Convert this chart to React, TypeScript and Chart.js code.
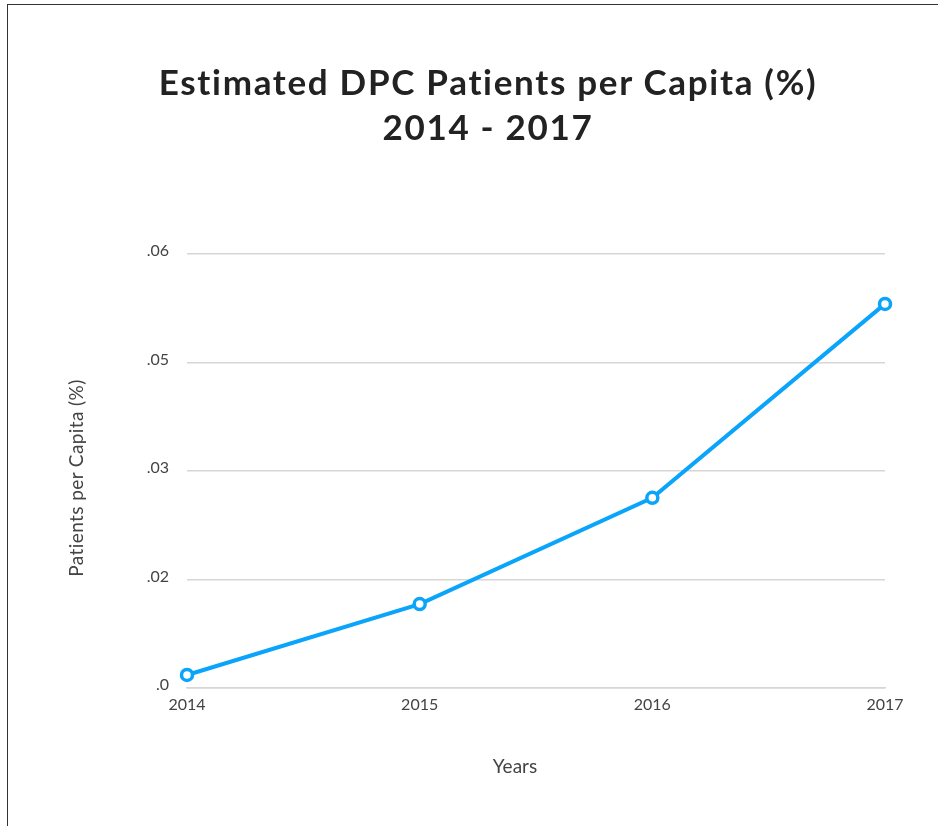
import React, { useEffect, useRef } from "react";
import { Chart, registerables } from "chart.js";

Chart.register(...registerables);

const years = ["2014", "2015", "2016", "2017"];
const patientsPerCapita = [0.0018, 0.0116, 0.0263, 0.0531];
const yTickLabels = [".0", ".02", ".03", ".05", ".06"];
const titleLines = ["Estimated DPC Patients per Capita (%)", "2014 - 2017"];
const xAxisTitle = "Years";
const yAxisTitle = "Patients per Capita (%)";

const FONT = "Lato, 'Open Sans', sans-serif";

export default function App() {
  const canvasRef = useRef<HTMLCanvasElement | null>(null);

  useEffect(() => {
    document.body.style.margin = "0";
    const canvas = canvasRef.current;
    if (!canvas) return;
    const chart = new Chart(canvas, {
      type: "line",
      data: {
        labels: years,
        datasets: [
          {
            data: patientsPerCapita,
            borderColor: "#0aa5fa",
            borderWidth: 4,
            pointRadius: 5.5,
            pointBorderWidth: 3.5,
            pointBackgroundColor: "#ffffff",
            pointBorderColor: "#0aa5fa",
            tension: 0,
          },
        ],
      },
      options: {
        animation: false,
        responsive: false,
        layout: { padding: { top: 254, right: 53, left: 0, bottom: 0 } },
        plugins: { legend: { display: false }, title: { display: false }, tooltip: { enabled: false } },
        scales: {
          x: {
            offset: false,
            grid: { display: false, drawTicks: false },
            border: { display: true, color: "#d6d6d6", width: 1.5 },
            ticks: {
              padding: 7,
              color: "#444444",
              font: { family: FONT, size: 16 },
              maxRotation: 0,
              autoSkip: false,
            },
            afterFit: (scale: any) => {
              scale.height = 138;
            },
          },
          y: {
            min: 0,
            max: 0.06,
            grid: { color: "#d6d6d6", lineWidth: 1.5, drawTicks: false },
            border: { display: false },
            ticks: {
              stepSize: 0.015,
              padding: 18,
              labelOffset: -3,
              color: "#444444",
              font: { family: FONT, size: 16 },
              callback: (_v: any, i: number) => yTickLabels[i],
            },
            afterFit: (scale: any) => {
              scale.width = 187;
            },
          },
        },
      },
    });
    return () => chart.destroy();
  }, []);

  return (
    <div style={{ position: "absolute", left: 0, top: 0, width: 938, height: 826, background: "#fff", overflow: "hidden" }}>
      <div
        style={{
          position: "absolute",
          left: 7,
          top: 4,
          width: 1000,
          height: 1000,
          borderLeft: "1.5px solid #333",
          borderTop: "1.5px solid #333",
        }}
      />
      <canvas ref={canvasRef} width={938} height={826} style={{ position: "absolute", left: 0, top: 0 }} />
      <div
        style={{
          position: "absolute",
          left: 0,
          top: 59,
          width: 976,
          textAlign: "center",
          fontFamily: FONT,
          fontWeight: 700,
          fontSize: 35,
          letterSpacing: "1.7px",
          fontVariantLigatures: "none",
          lineHeight: "45px",
          color: "#222222",
        }}
      >
        {titleLines.map((t) => (
          <div key={t}>{t}</div>
        ))}
      </div>
      <div
        style={{
          position: "absolute",
          left: 415,
          top: 754,
          width: 200,
          textAlign: "center",
          fontFamily: FONT,
          fontSize: 19,
          color: "#444444",
        }}
      >
        {xAxisTitle}
      </div>
      <div
        style={{
          position: "absolute",
          left: 76 - 150,
          top: 478 - 13,
          width: 300,
          height: 26,
          lineHeight: "26px",
          textAlign: "center",
          fontFamily: FONT,
          fontSize: 19,
          letterSpacing: "0.4px",
          color: "#444444",
          transform: "rotate(-90deg)",
        }}
      >
        {yAxisTitle}
      </div>
    </div>
  );
}
